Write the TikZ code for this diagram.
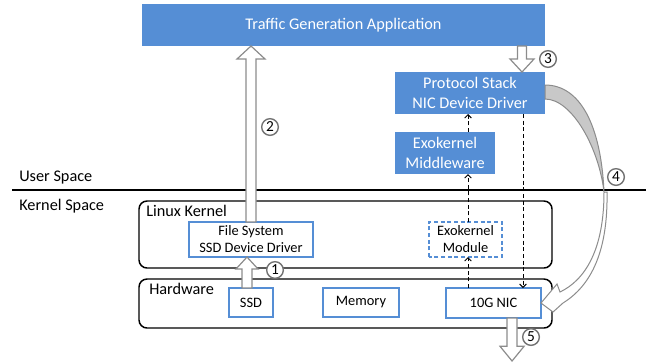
\documentclass[tikz,border=0pt]{standalone}
\usepackage{fontspec}
\setmainfont{Carlito}
\usetikzlibrary{calc,arrows.meta}

\definecolor{ppblue}{HTML}{558ED5}
\definecolor{arrowgray}{HTML}{8C8C8C}
\definecolor{curlgray}{HTML}{C8C8C8}

% Hollow block arrow between two vertically aligned points.
% #1 tail, #2 tip, #3 shaft half-width, #4 head half-width,
% #5 head length (positive: points up the page, negative: down)
\newcommand{\blockarrow}[5]{%
  \draw[hollow] let \p1=(#1), \p2=(#2) in
    ({\x2-#3},{\y1}) -- ({\x2-#3},{\y2-(#5)}) -- ({\x2-#4},{\y2-(#5)}) -- (\x2,\y2)
    -- ({\x2+#4},{\y2-(#5)}) -- ({\x2+#3},{\y2-(#5)}) -- ({\x2+#3},{\y1}) -- cycle;}

\begin{document}
\begin{tikzpicture}[x=0.75pt,y=-0.75pt,
  bigfont/.style={font=\fontsize{12.2}{15}\selectfont},
  smallfont/.style={font=\fontsize{10.8}{12.75}\selectfont},
  bluebox/.style={fill=ppblue, text=white, inner sep=0pt, outer sep=0pt,
    align=center, bigfont},
  hwbox/.style={draw=ppblue, line width=1.1pt, fill=white, inner sep=0pt,
    outer sep=0pt, align=center, smallfont},
  region/.style={draw=black, line width=1.1pt, rounded corners=6pt,
    inner sep=0pt, outer sep=0pt},
  caption/.style={anchor=base west, inner sep=0pt, bigfont},
  tag/.style={circle, draw=black!55, line width=1.05pt, fill=white,
    minimum size=12.5pt, inner sep=0pt, font=\fontsize{11.5}{11.5}\selectfont},
  hollow/.style={draw=arrowgray, line width=0.9pt, fill=white},
  dashflow/.style={draw=black, line width=0.75pt, dash pattern=on 3pt off 2pt,
    -{Straight Barb[length=2.5pt,width=5pt]}}
]
\useasboundingbox (0,0) rectangle (656,362);

% user / kernel boundary
\coordinate (sepL) at (12,190);
\coordinate (sepR) at (646,190);
\draw[line width=1.5pt] (sepL) -- (sepR);
\node[caption] (us) at (19,181) {User Space};
\node[caption] (ks) at (19,210) {Kernel Space};

% application and user-space stack
\node[bluebox, minimum width=302.25pt, minimum height=31.5pt] (app) at (343.5,25)
  {Traffic Generation Application};
\node[bluebox, minimum width=112.5pt, minimum height=31.5pt] (proto) at (470,93)
  {Protocol Stack\\NIC Device Driver};
\node[bluebox, minimum width=75pt, minimum height=31.5pt] (mid) at (445,153)
  {Exokernel\\Middleware};

% kernel and hardware regions
\node[region, minimum width=309.75pt, minimum height=50.25pt] (kern) at (345.5,234.5) {};
\node[caption] (kernlab) at (146,216) {Linux Kernel};
\node[region, minimum width=309.75pt, minimum height=36.75pt] (hw) at (345.5,303.5) {};
\node[caption] (hwlab) at (149,294) {Hardware};

\node[hwbox, minimum width=93pt, minimum height=26.25pt] (fs) at (251,239.5)
  {File System\\SSD Device Driver};
\node[hwbox, draw=none, minimum width=54.75pt, minimum height=26.25pt] (mod) at (465.5,239.5)
  {Exokernel\\Module};
\draw[ppblue, line width=1.1pt, dash pattern=on 3pt off 2pt]
  (mod.south west) rectangle (mod.north east);
\node[hwbox, minimum width=33pt, minimum height=21.75pt] (ssd) at (251,302.5) {SSD};
\node[hwbox, minimum width=57pt, minimum height=21.75pt] (mem) at (361,302.5) {Memory};
\node[hwbox, minimum width=71.25pt, minimum height=22.5pt] (nic) at (493.5,303) {10G NIC};

% control path through the exokernel (dashed)
\coordinate (dl) at (468,0);
\coordinate (dr) at (523,0);
\draw[dashflow] (nic.north -| dl) -- (mod.south -| dl);
\draw[dashflow] (mod.north -| dl) -- (mid.south -| dl);
\draw[dashflow] (mid.north -| dl) -- (proto.south -| dl);
\draw[dashflow] (proto.south -| dr) -- (nic.north -| dr);

% data path block arrows
\coordinate (a1) at ([xshift=-3pt]ssd.north);
\blockarrow{a1}{a1 |- fs.south}{3.75pt}{8.25pt}{9pt}
\blockarrow{fs.north}{fs.north |- app.south}{3.75pt}{10.5pt}{9.75pt}
\coordinate (a3) at ([xshift=-17.25pt]proto.north east);
\blockarrow{a3 |- app.south}{a3}{3.4pt}{9pt}{-9.75pt}
\coordinate (a5) at ([xshift=13.9pt]nic.south);
\coordinate (out) at ($(a5)+(0,43)$);
\blockarrow{a5}{out}{3.75pt}{9pt}{-11pt}

% curled arrow from the driver back down to the NIC
\filldraw[fill=curlgray, draw=arrowgray, line width=0.75pt]
  (proto.east |- 0,85) .. controls (580,85) and (601,125) .. (604,192)
  .. controls (599,148) and (572,99) .. (proto.east |- 0,99) -- cycle;
\filldraw[fill=white, draw=arrowgray, line width=0.75pt]
  (604,192) .. controls (604,250) and (585,280) .. (560,292)
  -- (557,284) -- (nic.east) -- (553,312) -- (563,303)
  .. controls (592,285) and (608,250) .. (607,192) -- cycle;

% step numbers
\node[tag] (t1) at (275,270) {1};
\node[tag] (t2) at (270,127) {2};
\node[tag] (t3) at (548,59) {3};
\node[tag] (t4) at (616,177) {4};
\node[tag] (t5) at (531,337) {5};
\end{tikzpicture}
\end{document}
